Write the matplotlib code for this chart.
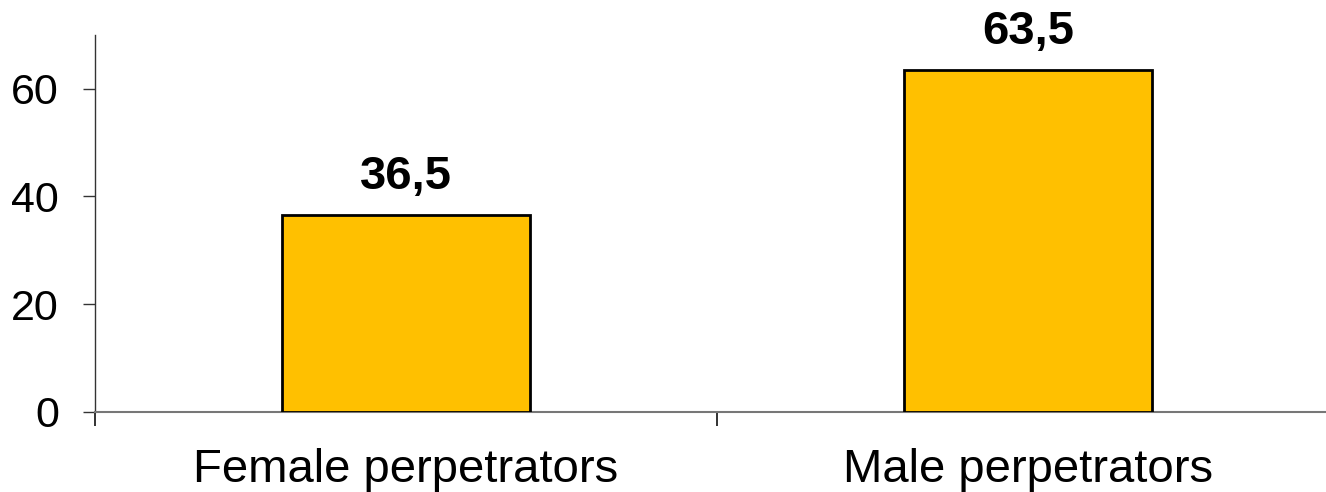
import numpy as np
import matplotlib
matplotlib.use('Agg')
import matplotlib.pyplot as plt

plt.rcParams['font.family'] = ['Liberation Sans', 'DejaVu Sans']

categories = ['Female perpetrators', 'Male perpetrators']
values = [36.5, 63.5]
value_labels = ['36,5', '63,5']
y_ticks = [0, 20, 40, 60]


def make_chart():
    fig = plt.figure(figsize=(13.26, 4.92), dpi=100)
    ax = fig.add_axes([95 / 1326, 1 - 411.7 / 492, 1244 / 1326, 376.7 / 492])

    x = np.arange(len(categories))
    bars = ax.bar(x, values, width=0.4, color='#FFC000', edgecolor='black', linewidth=2.0, zorder=3)

    for bar, lab in zip(bars, value_labels):
        ax.annotate(lab, (bar.get_x() + bar.get_width() / 2, bar.get_height()),
                    xytext=(0, 19), textcoords='offset points', ha='center', va='baseline',
                    fontsize=34, fontweight='bold')

    ax.set_xlim(-0.5, len(categories) - 0.5)
    ax.set_ylim(0, 70)
    ax.set_yticks(y_ticks)
    ax.tick_params(axis='y', labelsize=31, length=9, width=1, color='#333333', pad=17)

    # category labels in the middle, tick marks between categories
    ax.set_xticks(x)
    ax.set_xticklabels(categories, fontsize=34)
    ax.tick_params(axis='x', which='major', length=0, pad=26)
    ax.set_xticks(np.arange(-0.5, len(categories), 1.0), minor=True)
    ax.tick_params(axis='x', which='minor', length=10, width=1.3, color='#222222', direction='out')

    for s in ['top', 'right']:
        ax.spines[s].set_visible(False)
    ax.spines['left'].set_color('#333333')
    ax.spines['left'].set_linewidth(1.0)
    ax.spines['bottom'].set_color('#777777')
    ax.spines['bottom'].set_linewidth(1.5)

    fig.savefig('out.png', dpi=100)


if __name__ == '__main__':
    make_chart()
